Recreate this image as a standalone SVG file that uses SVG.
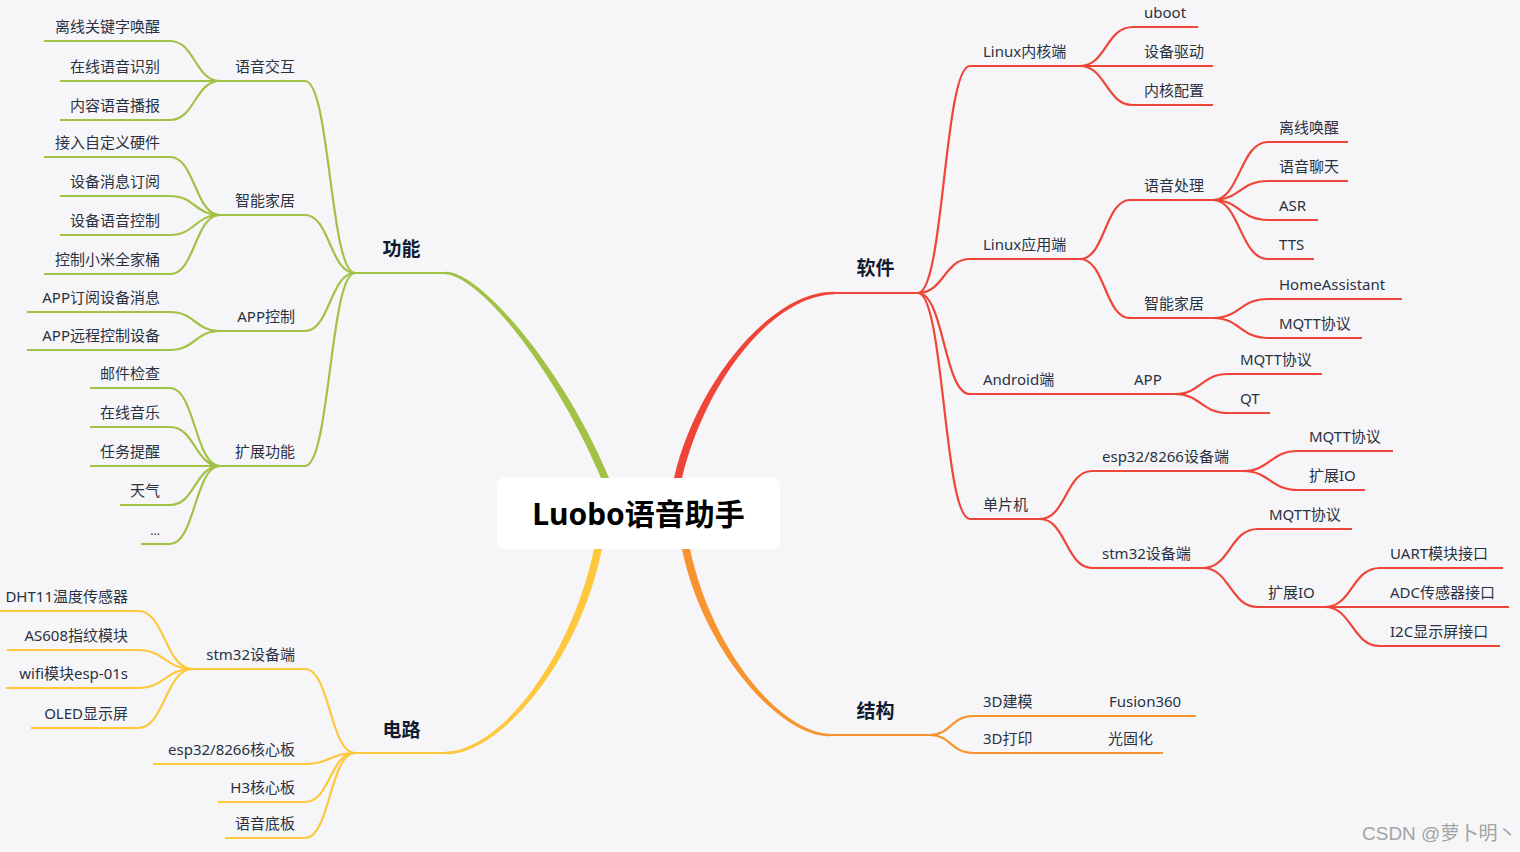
<svg xmlns="http://www.w3.org/2000/svg" width="1520" height="852" viewBox="0 0 1520 852">
<style>
.g{stroke:#a2c245;fill:none;stroke-width:2.2}
.r{stroke:#ef4538;fill:none;stroke-width:2.2}
.y{stroke:#fdc83c;fill:none;stroke-width:2.2}
.o{stroke:#f7942e;fill:none;stroke-width:2.2}
text{font-family:"Noto Sans","Noto Sans CJK SC",sans-serif;font-size:15px;fill:#2a3242}
.e{text-anchor:end}
.m{font-size:19px;font-weight:bold;fill:#111b30;text-anchor:middle}
.title{font-size:30px;font-weight:bold;fill:#000;text-anchor:middle}
.wm{font-family:"Liberation Sans","Noto Sans CJK SC",sans-serif;font-size:19px;fill:#a3a3a3}
</style>
<rect width="1520" height="852" fill="#f6f6f9"/>
<g id="connectors">
<!-- main branches (tapered) -->
<path fill="#a2c245" d="M609 490 L609 478 C564.5 370 480 270.5 445 271.8 L445 274.2 C480 275.5 555.5 370 601 478 L601 490 Z"/>
<path fill="#ef4538" d="M674 490 L674 478 C695.5 385 770 290.5 835 291.8 L835 294.2 C770 295.5 704.5 385 682 478 L682 490 Z"/>
<path fill="#fdc83c" d="M602 540 L602 549 C579.5 660 500 755.5 445 754.2 L445 751.8 C500 750.5 570.5 660 594 549 L594 540 Z"/>
<path fill="#f7942e" d="M682 540 L682 549 C702.5 650 780 737.5 830 736.2 L830 733.8 C780 732.5 711.5 650 690 549 L690 540 Z"/>
<path class="g" d="M445 273 L355 273"/>
<path class="y" d="M445 753 L355 753"/>
<path class="r" d="M835 293 L918 293"/>
<path class="o" d="M830 735 L930 735"/>
<!-- 功能 -->
<path class="g" d="M355 273 C330 273 330 81 305 81"/>
<path class="g" d="M355 273 C330 273 330 215 305 215"/>
<path class="g" d="M355 273 C330 273 330 331 305 331"/>
<path class="g" d="M355 273 C330 273 330 466 305 466"/>
<path class="g" d="M220 81 C195 81 195 41 170 41"/>
<path class="g" d="M220 81 L170 81"/>
<path class="g" d="M220 81 C195 81 195 120 170 120"/>
<path class="g" d="M220 215 C195 215 195 157 170 157"/>
<path class="g" d="M220 215 C195 215 195 196 170 196"/>
<path class="g" d="M220 215 C195 215 195 235 170 235"/>
<path class="g" d="M220 215 C195 215 195 274 170 274"/>
<path class="g" d="M220 331 C195 331 195 312 170 312"/>
<path class="g" d="M220 331 C195 331 195 350 170 350"/>
<path class="g" d="M220 466 C195 466 195 388 170 388"/>
<path class="g" d="M220 466 C195 466 195 427 170 427"/>
<path class="g" d="M220 466 L170 466"/>
<path class="g" d="M220 466 C195 466 195 505 170 505"/>
<path class="g" d="M220 466 C195 466 195 544 170 544"/>
<!-- 电路 -->
<path class="y" d="M355 753 C330 753 330 669 305 669"/>
<path class="y" d="M355 753 C330 753 330 764 305 764"/>
<path class="y" d="M355 753 C330 753 330 802 305 802"/>
<path class="y" d="M355 753 C330 753 330 838 305 838"/>
<path class="y" d="M193 669 C165 669 165 611 138 611"/>
<path class="y" d="M193 669 C165 669 165 650 138 650"/>
<path class="y" d="M193 669 C165 669 165 688 138 688"/>
<path class="y" d="M193 669 C165 669 165 728 138 728"/>
<!-- 软件 -->
<path class="r" d="M918 293 C944 293 944 66 970 66"/>
<path class="r" d="M918 293 C944 293 944 259 970 259"/>
<path class="r" d="M918 293 C944 293 944 394 970 394"/>
<path class="r" d="M918 293 C944 293 944 519 970 519"/>
<path class="r" d="M1080 66 C1106 66 1106 27 1133 27"/>
<path class="r" d="M1080 66 L1133 66"/>
<path class="r" d="M1080 66 C1106 66 1106 105 1133 105"/>
<path class="r" d="M1080 259 C1105 259 1105 200 1130 200"/>
<path class="r" d="M1080 259 C1105 259 1105 318 1130 318"/>
<path class="r" d="M1213 200 C1240 200 1240 142 1268 142"/>
<path class="r" d="M1213 200 C1240 200 1240 181 1268 181"/>
<path class="r" d="M1213 200 C1240 200 1240 220 1268 220"/>
<path class="r" d="M1213 200 C1240 200 1240 259 1268 259"/>
<path class="r" d="M1213 318 C1240 318 1240 299 1268 299"/>
<path class="r" d="M1213 318 C1240 318 1240 338 1268 338"/>
<path class="r" d="M1175 394 C1201 394 1201 374 1228 374"/>
<path class="r" d="M1175 394 C1201 394 1201 413 1228 413"/>
<path class="r" d="M1040 519 C1066 519 1066 471 1092 471"/>
<path class="r" d="M1040 519 C1066 519 1066 568 1092 568"/>
<path class="r" d="M1243 471 C1270 471 1270 451 1298 451"/>
<path class="r" d="M1243 471 C1270 471 1270 490 1298 490"/>
<path class="r" d="M1203 568 C1230 568 1230 529 1258 529"/>
<path class="r" d="M1203 568 C1230 568 1230 607 1258 607"/>
<path class="r" d="M1325 607 C1352 607 1352 568 1380 568"/>
<path class="r" d="M1325 607 L1380 607"/>
<path class="r" d="M1325 607 C1352 607 1352 646 1380 646"/>
<!-- 结构 -->
<path class="o" d="M930 735 C951 735 951 716 973 716"/>
<path class="o" d="M930 735 C951 735 951 753 973 753"/>
</g>
<g id="root">
<rect x="497" y="478" width="283" height="71" rx="7" fill="#fff"/>
<text class="title" x="638.5" y="525">Luobo语音助手</text>
</g>
<g id="n-gongneng"><text class="m" x="401.5" y="256">功能</text></g>
<g id="n-dianlu"><text class="m" x="401.5" y="737">电路</text></g>
<g id="n-ruanjian"><text class="m" x="875.5" y="275">软件</text></g>
<g id="n-jiegou"><text class="m" x="875.5" y="718">结构</text></g>
<!-- 功能 subtree -->
<g id="n-yyjh"><path class="g" d="M220 81 H305"/><text class="e" x="295" y="72">语音交互</text></g>
<g id="n-znjj"><path class="g" d="M220 215 H305"/><text class="e" x="295" y="206">智能家居</text></g>
<g id="n-appkz"><path class="g" d="M220 331 H305"/><text class="e" x="295" y="322">APP控制</text></g>
<g id="n-kzgn"><path class="g" d="M220 466 H305"/><text class="e" x="295" y="457">扩展功能</text></g>
<g id="n-l1"><path class="g" d="M44 41 H170"/><text class="e" x="160" y="32">离线关键字唤醒</text></g>
<g id="n-l2"><path class="g" d="M60 81 H170"/><text class="e" x="160" y="72">在线语音识别</text></g>
<g id="n-l3"><path class="g" d="M60 120 H170"/><text class="e" x="160" y="111">内容语音播报</text></g>
<g id="n-l4"><path class="g" d="M44 157 H170"/><text class="e" x="160" y="148">接入自定义硬件</text></g>
<g id="n-l5"><path class="g" d="M60 196 H170"/><text class="e" x="160" y="187">设备消息订阅</text></g>
<g id="n-l6"><path class="g" d="M60 235 H170"/><text class="e" x="160" y="226">设备语音控制</text></g>
<g id="n-l7"><path class="g" d="M44 274 H170"/><text class="e" x="160" y="265">控制小米全家桶</text></g>
<g id="n-l8"><path class="g" d="M27 312 H170"/><text class="e" x="160" y="303">APP订阅设备消息</text></g>
<g id="n-l9"><path class="g" d="M27 350 H170"/><text class="e" x="160" y="341">APP远程控制设备</text></g>
<g id="n-l10"><path class="g" d="M90 388 H170"/><text class="e" x="160" y="379">邮件检查</text></g>
<g id="n-l11"><path class="g" d="M90 427 H170"/><text class="e" x="160" y="418">在线音乐</text></g>
<g id="n-l12"><path class="g" d="M90 466 H170"/><text class="e" x="160" y="457">任务提醒</text></g>
<g id="n-l13"><path class="g" d="M120 505 H170"/><text class="e" x="160" y="496">天气</text></g>
<g id="n-l14"><path class="g" d="M141 544 H170"/><text class="e" x="160" y="535" style="font-size:12px">...</text></g>
<!-- 电路 subtree -->
<g id="n-stm32l"><path class="y" d="M193 669 H305"/><text class="e" x="295" y="660">stm32设备端</text></g>
<g id="n-esp32l"><path class="y" d="M153 764 H305"/><text class="e" x="295" y="755">esp32/8266核心板</text></g>
<g id="n-h3"><path class="y" d="M218 802 H305"/><text class="e" x="295" y="793">H3核心板</text></g>
<g id="n-ydb"><path class="y" d="M225 838 H305"/><text class="e" x="295" y="829">语音底板</text></g>
<g id="n-dht"><path class="y" d="M0 611 H138"/><text class="e" x="128" y="602">DHT11温度传感器</text></g>
<g id="n-as608"><path class="y" d="M7 650 H138"/><text class="e" x="128" y="641">AS608指纹模块</text></g>
<g id="n-wifi"><path class="y" d="M6 688 H138"/><text class="e" x="128" y="679">wifi模块esp-01s</text></g>
<g id="n-oled"><path class="y" d="M31 728 H138"/><text class="e" x="128" y="719">OLED显示屏</text></g>
<!-- 软件 subtree -->
<g id="n-lnk"><path class="r" d="M970 66 H1080"/><text x="983" y="57">Linux内核端</text></g>
<g id="n-lna"><path class="r" d="M970 259 H1080"/><text x="983" y="250">Linux应用端</text></g>
<g id="n-and"><path class="r" d="M970 394 H1120"/><text x="983" y="385">Android端</text></g>
<g id="n-dpj"><path class="r" d="M970 519 H1040"/><text x="983" y="510">单片机</text></g>
<g id="n-uboot"><path class="r" d="M1133 27 H1198"/><text x="1144" y="18">uboot</text></g>
<g id="n-sbqd"><path class="r" d="M1133 66 H1213"/><text x="1144" y="57">设备驱动</text></g>
<g id="n-nhpz"><path class="r" d="M1133 105 H1213"/><text x="1144" y="96">内核配置</text></g>
<g id="n-yycl"><path class="r" d="M1130 200 H1213"/><text x="1144" y="191">语音处理</text></g>
<g id="n-znjj2"><path class="r" d="M1130 318 H1213"/><text x="1144" y="309">智能家居</text></g>
<g id="n-lxhx"><path class="r" d="M1268 142 H1348"/><text x="1279" y="133">离线唤醒</text></g>
<g id="n-yylt"><path class="r" d="M1268 181 H1348"/><text x="1279" y="172">语音聊天</text></g>
<g id="n-asr"><path class="r" d="M1268 220 H1318"/><text x="1279" y="211">ASR</text></g>
<g id="n-tts"><path class="r" d="M1268 259 H1314"/><text x="1279" y="250">TTS</text></g>
<g id="n-ha"><path class="r" d="M1268 299 H1402"/><text x="1279" y="290">HomeAssistant</text></g>
<g id="n-mqtt1"><path class="r" d="M1268 338 H1362"/><text x="1279" y="329">MQTT协议</text></g>
<g id="n-app"><path class="r" d="M1120 394 H1175"/><text x="1134" y="385">APP</text></g>
<g id="n-mqtt2"><path class="r" d="M1228 374 H1322"/><text x="1240" y="365">MQTT协议</text></g>
<g id="n-qt"><path class="r" d="M1228 413 H1270"/><text x="1240" y="404">QT</text></g>
<g id="n-esp32r"><path class="r" d="M1092 471 H1243"/><text x="1102" y="462">esp32/8266设备端</text></g>
<g id="n-stm32r"><path class="r" d="M1092 568 H1203"/><text x="1102" y="559">stm32设备端</text></g>
<g id="n-mqtt3"><path class="r" d="M1298 451 H1393"/><text x="1309" y="442">MQTT协议</text></g>
<g id="n-kzio1"><path class="r" d="M1298 490 H1365"/><text x="1309" y="481">扩展IO</text></g>
<g id="n-mqtt4"><path class="r" d="M1258 529 H1352"/><text x="1269" y="520">MQTT协议</text></g>
<g id="n-kzio2"><path class="r" d="M1258 607 H1325"/><text x="1268" y="598">扩展IO</text></g>
<g id="n-uart"><path class="r" d="M1380 568 H1503"/><text x="1390" y="559">UART模块接口</text></g>
<g id="n-adc"><path class="r" d="M1380 607 H1509"/><text x="1390" y="598">ADC传感器接口</text></g>
<g id="n-i2c"><path class="r" d="M1380 646 H1500"/><text x="1390" y="637">I2C显示屏接口</text></g>
<!-- 结构 subtree -->
<g id="n-3djm"><path class="o" d="M973 716 H1100"/><text x="983" y="707">3D建模</text></g>
<g id="n-fusion"><path class="o" d="M1100 716 H1196"/><text x="1109" y="707">Fusion360</text></g>
<g id="n-3ddy"><path class="o" d="M973 753 H1100"/><text x="983" y="744">3D打印</text></g>
<g id="n-ggh"><path class="o" d="M1100 753 H1163"/><text x="1108" y="744">光固化</text></g>
<text class="wm" x="1362" y="840">CSDN @萝卜明丶</text>
</svg>
